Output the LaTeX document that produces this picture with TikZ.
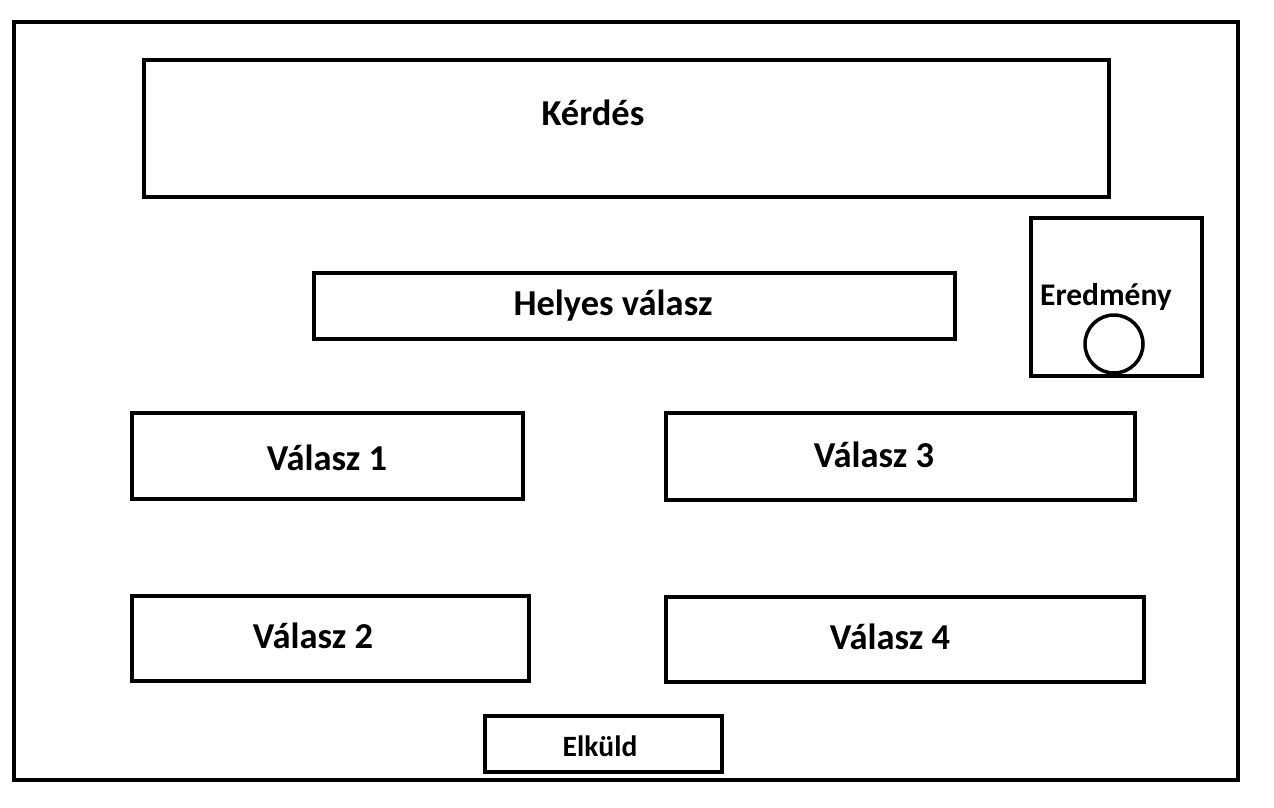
\documentclass[tikz,border=0pt]{standalone}
\usepackage{fontspec}
\setmainfont{Carlito}
\begin{document}
\begin{tikzpicture}[x=1pt,y=-1pt,
  frame/.style={draw=black,line width=4pt},
  box/.style={draw=black,line width=4pt},
  lbl/.style={font=\bfseries\fontsize{36.5}{42}\selectfont,inner sep=0pt},
  slbl/.style={font=\bfseries\fontsize{31.5}{36}\selectfont,inner sep=0pt},
  tlbl/.style={font=\bfseries\fontsize{29.5}{34}\selectfont,inner sep=0pt}]
\useasboundingbox (0,0) rectangle (1274,807);
\draw[frame] (14,22) rectangle (1238,780);
\draw[box] (144,60) rectangle (1109,197);
\node[lbl] (q) at (593,113) {Kérdés};
\draw[box] (314,273) rectangle (955,339);
\node[lbl] (h) at (613,306) {Helyes válasz};
\draw[box] (1031,218) rectangle (1202,376);
\node[slbl] (e) at (1106,297) {Eredmény};
\draw[line width=3.5pt] (1114,344) circle (29);
\draw[box] (132,413) rectangle (523,499);
\node[lbl] (v1) at (327,458) {Válasz 1};
\draw[box] (666,413) rectangle (1135,500);
\node[lbl] (v3) at (874,455) {Válasz 3};
\draw[box] (132,596) rectangle (529,681);
\node[lbl] (v2) at (313,636) {Válasz 2};
\draw[box] (666,597) rectangle (1144,682);
\node[lbl] (v4) at (890,637) {Válasz 4};
\draw[box] (485,716) rectangle (722,772);
\node[tlbl] (s) at (600,746) {Elküld};
\end{tikzpicture}
\end{document}
